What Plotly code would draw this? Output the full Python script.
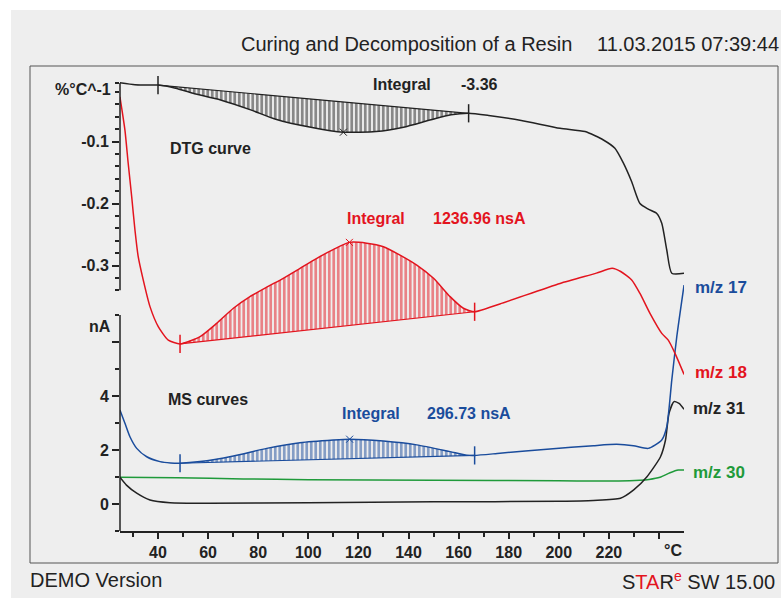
import plotly.graph_objects as go

# DTG curve (%/°C) vs temperature
dtg_T = [24.8, 30.8, 35.0, 40.0, 47.0, 54.0, 65.0, 77.0, 87.0, 101.0, 114.0, 127.0, 138.0, 149.0, 157.0, 164.0,
         172.0, 185.0, 200.5, 210.5, 217.8, 222.4, 225.8, 229.1, 232.4, 235.7, 239.1, 241.1, 243.1, 245.1, 250.0]
dtg_V = [-0.0052, -0.0084, -0.0088, -0.0090, -0.0140, -0.0223, -0.0330, -0.0490, -0.0640, -0.0770, -0.0850,
         -0.0840, -0.0770, -0.0650, -0.0570, -0.0545, -0.0580, -0.0660, -0.0787, -0.0840, -0.0976, -0.1110,
         -0.1350, -0.1650, -0.2000, -0.2090, -0.2160, -0.2320, -0.2750, -0.3125, -0.3125]

# MS curves (nA)
ms18_T = [24.8, 26.8, 28.1, 29.5, 30.8, 32.1, 34.1, 36.8, 40.1, 44.1, 48.8, 56.8, 63.4, 70.1, 76.7, 83.4, 90.0,
          96.7, 103.4, 110.1, 116.4, 123.3, 130.0, 136.6, 143.3, 150.0, 156.6, 161.9, 166.4, 176.5, 200.5, 215.0,
          221.3, 224.7, 229.1, 232.4, 236.4, 241.1, 243.7, 246.4, 250.0]
ms18_V = [15.08, 13.85, 12.62, 11.38, 10.15, 9.16, 8.30, 7.31, 6.57, 6.07, 5.93, 6.20, 6.69, 7.25, 7.68, 8.03, 8.36,
          8.73, 9.10, 9.43, 9.69, 9.66, 9.53, 9.22, 8.85, 8.36, 7.68, 7.25, 7.12, 7.41, 8.17, 8.55,
          8.73, 8.61, 8.30, 7.80, 7.06, 6.32, 6.07, 5.58, 4.80]

ms17_T = [24.8, 26.8, 28.8, 31.5, 35.5, 40.8, 45.0, 48.8, 56.8, 70.1, 83.4, 96.7, 110.0, 116.5, 130.0, 143.3,
          156.6, 163.3, 166.4, 176.5, 196.5, 213.8, 223.1, 229.8, 235.7, 241.1, 243.1, 245.1, 247.1, 250.0]
ms17_V = [3.48, 2.99, 2.49, 2.06, 1.75, 1.57, 1.52, 1.51, 1.57, 1.78, 2.06, 2.27, 2.37, 2.40, 2.33, 2.19,
          1.94, 1.81, 1.80, 1.88, 2.04, 2.16, 2.21, 2.16, 2.06, 2.37, 2.86, 4.59, 6.20, 8.11]

ms30_T = [24.8, 47.5, 74.0, 100.0, 150.0, 200.0, 224.0, 232.4, 236.0, 240.4, 244.4, 247.7, 250.0]
ms30_V = [0.99, 0.97, 0.93, 0.90, 0.88, 0.86, 0.85, 0.88, 0.91, 0.99, 1.16, 1.26, 1.26]

ms31_T = [24.8, 27.4, 31.5, 36.8, 44.8, 60.8, 100.0, 150.0, 200.5, 213.8, 224.6, 229.9, 235.2, 240.6, 242.6,
          244.0, 246.0, 248.0, 250.0]
ms31_V = [0.99, 0.70, 0.40, 0.15, 0.05, 0.03, 0.05, 0.08, 0.10, 0.13, 0.21, 0.52, 1.01, 1.75, 2.37,
          3.36, 3.79, 3.73, 3.51]

# integration limits and peak temperatures
dtg_int = (40.0, 164.0, 114.0)
ms18_int = (48.8, 166.4, 116.4)
ms17_int = (48.8, 166.4, 116.5)

x_ticks = [40, 60, 80, 100, 120, 140, 160, 180, 200, 220, 240]
x_labels = ["40", "60", "80", "100", "120", "140", "160", "180", "200", "220", " "]

BLACK = "#222222"
RED = "#e3141e"
BLUE = "#1a4c9c"
GREEN = "#1f9a3a"
FONT = "Liberation Sans, Arial, sans-serif"

# plot area in pixels
L, R, T, B = 120, 684, 75, 531


def px(x, y):
    return (x - L) / (R - L), (B - y) / (B - T)


fig = go.Figure()


def add_integral(tt, vv, lims, color, yaxis):
    t0, t1, tp = lims
    i0, i1, ip = tt.index(t0), tt.index(t1), tt.index(tp)
    fig.add_trace(go.Scatter(x=[t0, t1], y=[vv[i0], vv[i1]], mode="lines", yaxis=yaxis,
                             line=dict(color=color, width=1.2), showlegend=False))
    fig.add_trace(go.Scatter(x=tt[i0:i1 + 1], y=vv[i0:i1 + 1], mode="lines", yaxis=yaxis,
                             line=dict(color=color, width=0, shape="spline", smoothing=0.6),
                             fill="tonexty", fillcolor="rgba(0,0,0,0)",
                             fillpattern=dict(shape="|", size=4.5, solidity=0.6, fgcolor=color,
                                              bgcolor="rgba(0,0,0,0)"),
                             showlegend=False))
    fig.add_trace(go.Scatter(x=[t0, t1], y=[vv[i0], vv[i1]], mode="markers", yaxis=yaxis,
                             marker=dict(symbol="line-ns", size=13, line=dict(color=color, width=1.5)),
                             showlegend=False))
    fig.add_trace(go.Scatter(x=[tp], y=[vv[ip]], mode="markers", yaxis=yaxis,
                             marker=dict(symbol="x-thin", size=7, line=dict(color=color, width=1)),
                             showlegend=False))


add_integral(dtg_T, dtg_V, dtg_int, BLACK, "y")
add_integral(ms18_T, ms18_V, ms18_int, RED, "y2")
add_integral(ms17_T, ms17_V, ms17_int, BLUE, "y2")

for tt, vv, color, yaxis in [(dtg_T, dtg_V, BLACK, "y"), (ms30_T, ms30_V, GREEN, "y2"),
                             (ms31_T, ms31_V, BLACK, "y2"), (ms17_T, ms17_V, BLUE, "y2"),
                             (ms18_T, ms18_V, RED, "y2")]:
    fig.add_trace(go.Scatter(x=tt, y=vv, mode="lines", yaxis=yaxis,
                             line=dict(color=color, width=1.5, shape="spline", smoothing=0.6),
                             showlegend=False))

tickfont = dict(family=FONT, size=16, color=BLACK, weight="bold")

fig.update_layout(
    width=781, height=598, autosize=False,
    margin=dict(l=L, r=781 - R, t=T, b=598 - B),
    paper_bgcolor="white", plot_bgcolor="rgba(0,0,0,0)",
    showlegend=False,
    xaxis=dict(range=[24.83, 249.98], tickvals=x_ticks, ticktext=x_labels, ticks="outside",
               ticklen=6, tickwidth=1.5, tickcolor=BLACK, showline=True, linecolor=BLACK, linewidth=1.5,
               showgrid=False, zeroline=False, tickfont=tickfont,
               minor=dict(tickmode="array", tickvals=list(range(30, 240, 20)), ticks="outside",
                          ticklen=4, tickwidth=1.5, tickcolor=BLACK, showgrid=False)),
    yaxis=dict(range=[-0.7282, 0.00726], tickvals=[-0.1, -0.2, -0.3], ticktext=["-0.1", "-0.2", "-0.3"],
               ticks="outside", ticklen=7, tickwidth=1.5, tickcolor=BLACK, showline=False,
               showgrid=False, zeroline=False, tickfont=tickfont,
               minor=dict(tickmode="array",
                          tickvals=[-0.0056, -0.02, -0.04, -0.06, -0.08, -0.12, -0.14, -0.16, -0.18,
                                    -0.22, -0.24, -0.26, -0.28, -0.32, -0.34],
                          ticks="outside", ticklen=4, tickwidth=1.5, tickcolor=BLACK, showgrid=False)),
    yaxis2=dict(range=[-1.0, 15.889], overlaying="y", side="left", anchor="x",
                tickvals=[0, 2, 4, 6], ticktext=["0", "2", "4", " "],
                ticks="outside", ticklen=7, tickwidth=1.5, tickcolor=BLACK, showline=False,
                showgrid=False, zeroline=False, tickfont=tickfont,
                minor=dict(tickmode="array", tickvals=[-1, 1, 3, 5, 7], ticks="outside",
                           ticklen=4, tickwidth=1.5, tickcolor=BLACK, showgrid=False)),
)

# page background, frame and the two y-axis lines
bx0, by0 = px(11, 598)
bx1, by1 = px(781, 10)
fx0, fy0 = px(30, 563)
fx1, fy1 = px(778, 66)
fig.add_shape(type="rect", xref="paper", yref="paper", x0=bx0, y0=by0, x1=bx1, y1=by1,
              fillcolor="#eeeeee", line=dict(width=0), layer="below")
fig.add_shape(type="rect", xref="paper", yref="paper", x0=fx0, y0=fy0, x1=fx1, y1=fy1,
              line=dict(color="#555555", width=1), layer="below")
fig.add_shape(type="line", xref="paper", yref="y", x0=0, x1=0, y0=-0.34, y1=-0.0056,
              line=dict(color=BLACK, width=1.5))
fig.add_shape(type="line", xref="paper", yref="y2", x0=0, x1=0, y0=-1, y1=7,
              line=dict(color=BLACK, width=1.5))


def label(text, x, y, color=BLACK, size=16, anchor="left", bold=True):
    ax, ay = px(x, y)
    fig.add_annotation(xref="paper", yref="paper", x=ax, y=ay, text=text, showarrow=False,
                       xanchor=anchor, yanchor="middle",
                       font=dict(family=FONT, size=size, color=color,
                                 weight="bold" if bold else "normal"))


label("Curing and Decomposition of a Resin", 574, 44, size=20, anchor="right", bold=False)
label("11.03.2015 07:39:44", 781, 44, size=20, anchor="right", bold=False)
label("%°C^-1", 113, 89, anchor="right", size=16)
label("nA", 113, 326, anchor="right", size=16)
label("°C", 673, 550, anchor="center", size=16)
label("Integral", 371, 84)
label("-3.36", 459, 84)
label("DTG curve", 168, 149)
label("Integral", 345, 218, color=RED)
label("1236.96 nsA", 431, 218, color=RED)
label("MS curves", 166, 399)
label("Integral", 340, 413, color=BLUE)
label("296.73 nsA", 425, 413, color=BLUE)
label("m/z 17", 693, 287, color=BLUE, size=17)
label("m/z 18", 693, 372, color=RED, size=17)
label("m/z 31", 691, 408, color=BLACK, size=17)
label("m/z 30", 691, 472, color=GREEN, size=17)
label("DEMO Version", 28, 580, size=20, bold=False)
label("S<span style='color:#e3141e'>TA</span>R<sup><span style='color:#e3141e'>e</span></sup> SW 15.00",
      777, 580, size=20, anchor="right", bold=False)

fig.write_html("out.html", config={"displayModeBar": False},
               post_script="document.body.style.margin='0';")
